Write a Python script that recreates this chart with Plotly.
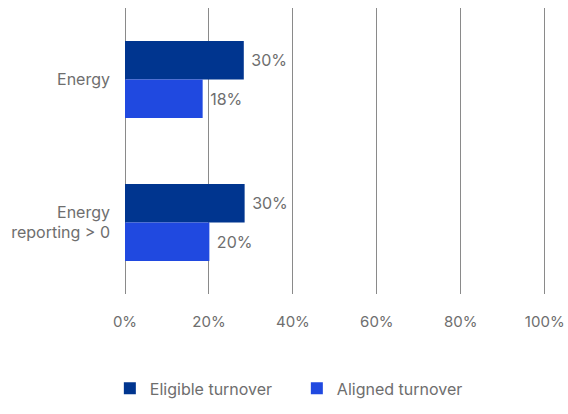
import plotly.graph_objects as go

categories = ["Energy", "Energy<br>reporting > 0"]
eligible = [28.3, 28.5]
aligned = [18.5, 20.1]
eligible_labels = ["30%", "30%"]
aligned_labels = ["18%", "20%"]
x_ticks = [0, 20, 40, 60, 80, 100]

grey = "#6e6e6e"
font = dict(family="Inter, Liberation Sans, Arial, sans-serif", size=16, color=grey)
pad = "\u00a0"

fig = go.Figure()
fig.add_trace(go.Bar(
    y=categories, x=eligible, orientation="h", name="Eligible turnover",
    marker=dict(color="#00358f", line=dict(width=0)),
    text=[pad + t for t in eligible_labels], textposition="outside", cliponaxis=False,
    textfont=font,
))
fig.add_trace(go.Bar(
    y=categories, x=aligned, orientation="h", name="Aligned turnover",
    marker=dict(color="#2049e0", line=dict(width=0)),
    text=[pad + t for t in aligned_labels], textposition="outside", cliponaxis=False,
    textfont=font,
))

fig.update_layout(
    width=568, height=414,
    margin=dict(l=125, r=22, t=8, b=117),
    barmode="group", bargap=0.46, bargroupgap=0,
    plot_bgcolor="white", paper_bgcolor="white",
    font=font,
    showlegend=True,
    legend=dict(orientation="h", x=-0.036, xanchor="left", y=-0.33, yanchor="middle",
                font=font, entrywidth=142, traceorder="normal"),
    xaxis=dict(range=[0, 100.3], tickvals=x_ticks, ticktext=[f"{v}%" for v in x_ticks],
               tickfont=dict(size=15),
               showgrid=True, gridcolor="#8a8a8a", gridwidth=1,
               zeroline=True, zerolinecolor="#8a8a8a", zerolinewidth=1,
               showline=False, ticks="", ticklabelstandoff=17, automargin=False),
    yaxis=dict(autorange="reversed", showgrid=False, showline=False, ticks="",
               ticklabelstandoff=14, automargin=False),
)

# drop the default 8px body margin so the figure fills the window without scrollbars
fig.write_html("out.html", config={"displayModeBar": False},
               post_script="document.body.style.margin='0';")
